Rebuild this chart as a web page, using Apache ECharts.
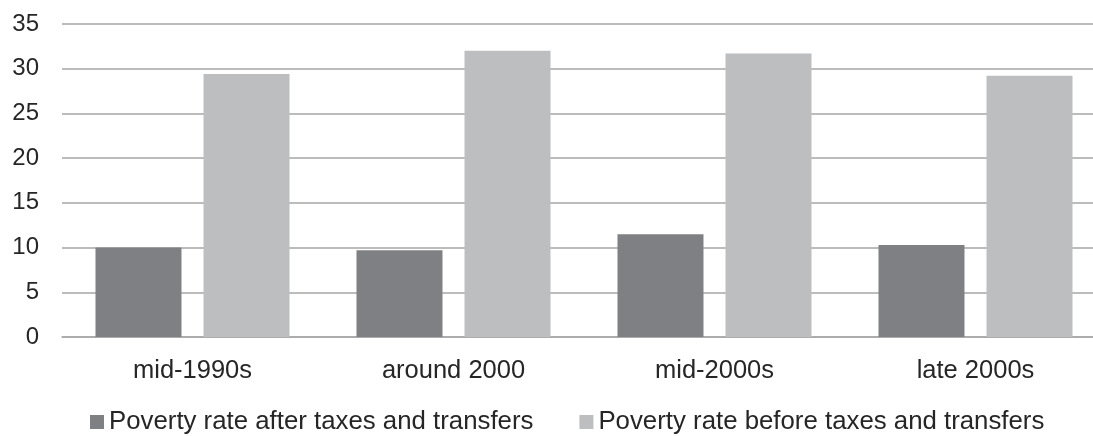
<!DOCTYPE html>
<html>
<head>
<meta charset="utf-8">
<script src="https://cdn.jsdelivr.net/npm/echarts@6/dist/echarts.min.js"></script>
<style>
  html, body { margin: 0; padding: 0; background: #fff; }
  #chart { width: 1093px; height: 436px; }
</style>
</head>
<body>
<div id="chart"></div>
<script>
const categories = ['mid-1990s', 'around 2000', 'mid-2000s', 'late 2000s']
const afterTaxes = [10.0, 9.7, 11.5, 10.3]
const beforeTaxes = [29.4, 32.0, 31.7, 29.2]
const seriesNames = ['Poverty rate after taxes and transfers', 'Poverty rate before taxes and transfers']

const FONT = '"Liberation Sans", Arial, sans-serif'
const TEXT = '#262626'

const chart = echarts.init(document.getElementById('chart'))

chart.setOption({
  animation: false,
  backgroundColor: '#fff',
  textStyle: { fontFamily: FONT },
  grid: {
    left: 62,
    top: 24,
    width: 1044,
    height: 313,
    containLabel: false,
    outerBoundsMode: 'none'
  },
  legend: {
    left: 90,
    top: 409,
    padding: 0,
    icon: 'rect',
    itemWidth: 14,
    itemHeight: 14,
    itemGap: 46,
    itemTextGap: 5,
    textStyle: { fontFamily: FONT, fontSize: 25.8, color: TEXT },
    data: seriesNames
  },
  xAxis: {
    type: 'category',
    data: categories,
    axisLine: { lineStyle: { color: '#a6a6a6', width: 1.5 } },
    axisTick: { show: false },
    axisLabel: { color: TEXT, fontSize: 25.5, margin: 21 }
  },
  yAxis: {
    type: 'value',
    min: 0,
    max: 35,
    interval: 5,
    axisLine: { show: false },
    axisTick: { show: false },
    axisLabel: { color: TEXT, fontSize: 24, margin: 23 },
    splitLine: { lineStyle: { color: '#a6a6a6', width: 1.5 } }
  },
  series: [
    {
      name: seriesNames[0],
      type: 'bar',
      data: afterTaxes,
      barWidth: 86,
      barGap: '25.6%',
      itemStyle: { color: '#7f8084' }
    },
    {
      name: seriesNames[1],
      type: 'bar',
      data: beforeTaxes,
      barWidth: 86,
      itemStyle: { color: '#bdbec0' }
    }
  ]
})
</script>
</body>
</html>
